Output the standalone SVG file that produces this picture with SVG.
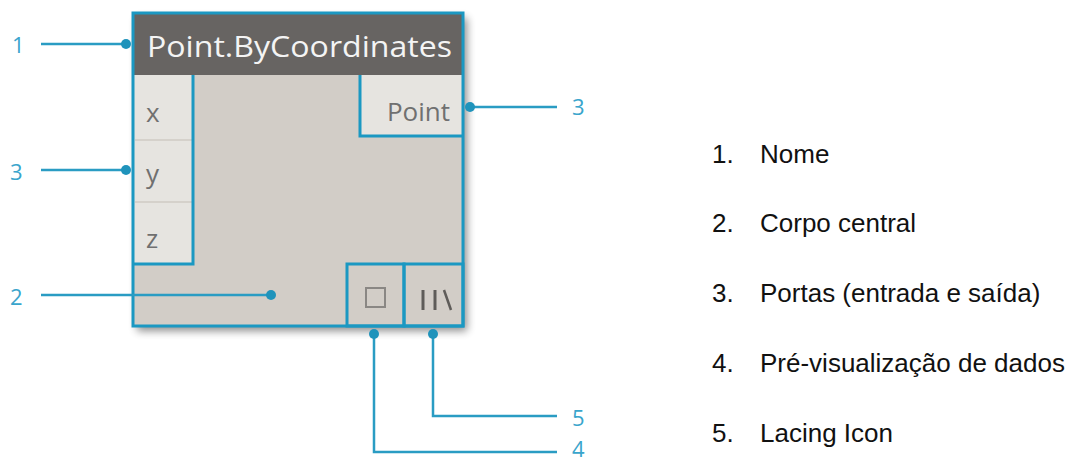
<svg xmlns="http://www.w3.org/2000/svg" width="1068" height="461" viewBox="0 0 1068 461">
  <style>
    .edge { stroke: #2a9cc3; stroke-width: 2.5; fill: none; }
    .dot { fill: #1f93bb; }
    .callout { font-family: "Open Sans", "Liberation Sans", sans-serif; font-size: 22px; fill: #3aa5cc; }
    .frame { fill: none; stroke: #1b98c2; stroke-width: 3; }
    .port { fill: #e6e4e0; }
    .porttext { font-family: "Open Sans", "Liberation Sans", sans-serif; font-size: 26px; fill: #707070; }
    .legend { font-family: "Liberation Sans", "Open Sans", sans-serif; font-size: 26px; fill: #111; }
  </style>
  <defs>
    <filter id="shadow" x="-10%" y="-10%" width="130%" height="130%">
      <feGaussianBlur in="SourceAlpha" stdDeviation="4"/>
      <feOffset dx="4" dy="5" result="b"/>
      <feComponentTransfer><feFuncA type="linear" slope="0.45"/></feComponentTransfer>
      <feMerge><feMergeNode/><feMergeNode in="SourceGraphic"/></feMerge>
    </filter>
  </defs>
  <rect width="1068" height="461" fill="#ffffff"/>

  <!-- Dynamo node -->
  <g id="node">
    <rect x="133" y="13" width="330" height="313" fill="#d2cdc7" filter="url(#shadow)"/>
    <rect x="133" y="13" width="330" height="62" fill="#676462"/>
    <text x="147" y="57" font-family="Open Sans, Liberation Sans, sans-serif" font-size="29" fill="#f4f4f4" textLength="305" lengthAdjust="spacingAndGlyphs">Point.ByCoordinates</text>

    <!-- input ports -->
    <g id="inputs">
      <rect class="port" x="133" y="75" width="60" height="189"/>
      <line x1="135" y1="140" x2="192" y2="140" stroke="#cfcbc5" stroke-width="1.5"/>
      <line x1="135" y1="202" x2="192" y2="202" stroke="#cfcbc5" stroke-width="1.5"/>
      <polyline class="frame" points="193,75 193,264 133,264"/>
      <text class="porttext" x="146" y="122">x</text>
      <text class="porttext" x="146" y="183">y</text>
      <text class="porttext" x="146" y="248">z</text>
    </g>

    <!-- output port -->
    <g id="output">
      <rect class="port" x="360" y="75" width="103" height="61"/>
      <polyline class="frame" points="360,75 360,136 463,136"/>
      <text class="porttext" x="450" y="121" text-anchor="end">Point</text>
    </g>

    <!-- preview and lacing buttons -->
    <g id="buttons">
      <rect class="frame" x="347" y="264" width="57" height="62"/>
      <rect class="frame" x="404" y="264" width="59" height="62"/>
      <rect x="366" y="288" width="19" height="19" fill="none" stroke="#8a8784" stroke-width="2"/>
      <line x1="423" y1="290" x2="423" y2="310" stroke="#5f5c59" stroke-width="3"/>
      <line x1="435" y1="290" x2="435" y2="310" stroke="#5f5c59" stroke-width="3"/>
      <line x1="444" y1="290" x2="451" y2="310" stroke="#5f5c59" stroke-width="2.5"/>
    </g>

    <rect class="frame" x="133" y="13" width="330" height="313"/>
  </g>

  <!-- callout connectors -->
  <g id="connectors">
    <line class="edge" x1="41" y1="44" x2="126" y2="44"/>
    <circle class="dot" cx="126" cy="44" r="5"/>
    <line class="edge" x1="41" y1="170" x2="126" y2="170"/>
    <circle class="dot" cx="126" cy="170" r="5"/>
    <line class="edge" x1="41" y1="295" x2="271" y2="295"/>
    <circle class="dot" cx="271" cy="295" r="5"/>
    <line class="edge" x1="470" y1="107" x2="557" y2="107"/>
    <circle class="dot" cx="470" cy="107" r="5"/>
    <polyline class="edge" points="374,334 374,452 557,452"/>
    <circle class="dot" cx="374" cy="334" r="5"/>
    <polyline class="edge" points="433,334 433,416 557,416"/>
    <circle class="dot" cx="433" cy="334" r="5"/>
  </g>

  <!-- callout numbers -->
  <g id="callouts">
    <text class="callout" x="12" y="53">1</text>
    <text class="callout" x="10" y="180">3</text>
    <text class="callout" x="10" y="305">2</text>
    <text class="callout" x="572" y="115">3</text>
    <text class="callout" x="572" y="426">5</text>
    <text class="callout" x="572" y="457">4</text>
  </g>

  <!-- legend -->
  <g id="legend">
    <text class="legend" x="712" y="163">1.</text>
    <text class="legend" x="760" y="163">Nome</text>
    <text class="legend" x="712" y="232">2.</text>
    <text class="legend" x="760" y="232">Corpo central</text>
    <text class="legend" x="712" y="302">3.</text>
    <text class="legend" x="760" y="302">Portas (entrada e saída)</text>
    <text class="legend" x="712" y="372">4.</text>
    <text class="legend" x="760" y="372">Pré-visualização de dados</text>
    <text class="legend" x="712" y="442">5.</text>
    <text class="legend" x="760" y="442">Lacing Icon</text>
  </g>
</svg>
